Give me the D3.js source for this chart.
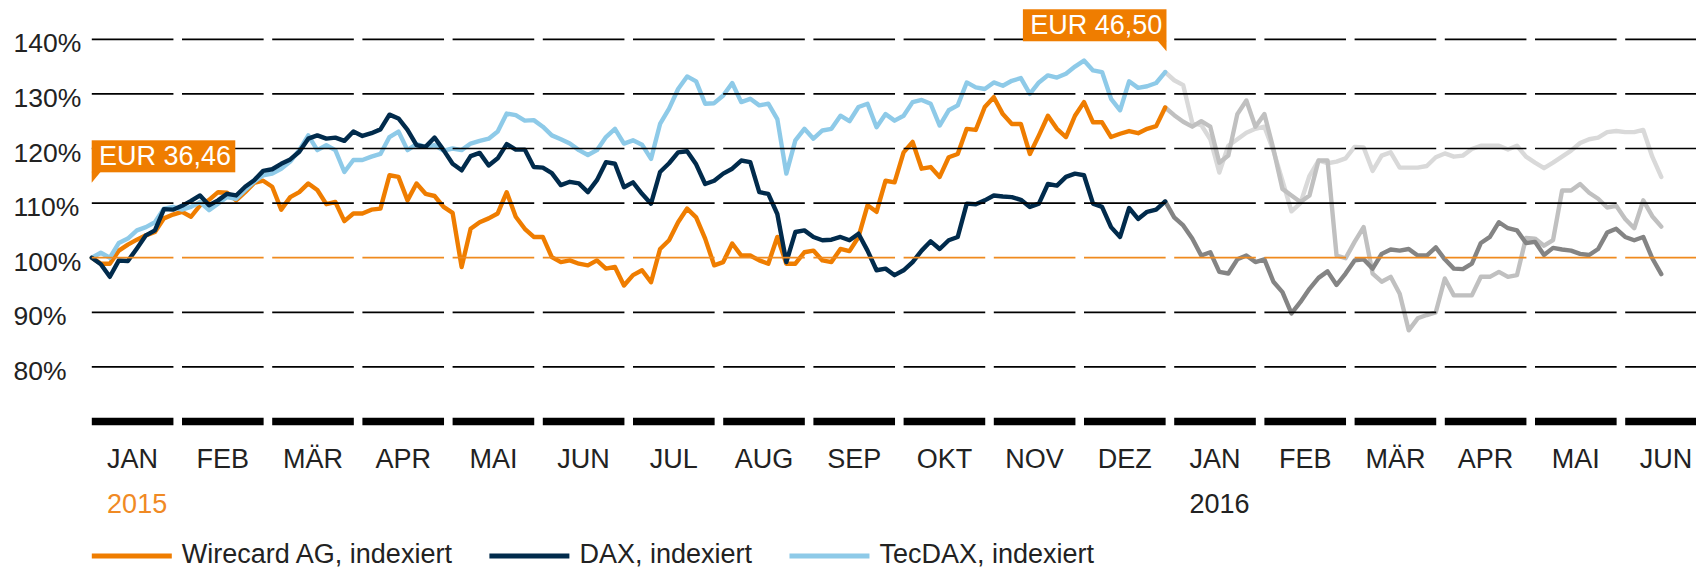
<!DOCTYPE html>
<html>
<head>
<meta charset="utf-8">
<script src="https://cdn.jsdelivr.net/npm/d3@7"></script>
<style>
html,body{margin:0;padding:0;background:#fff;}
svg{display:block;font-family:"Liberation Sans",Arial,Helvetica,sans-serif;}
</style>
</head>
<body>
<svg id="chart" width="1696" height="568"></svg>
<script>
// ---------------- DATA ----------------
const months = ["JAN","FEB","MÄR","APR","MAI","JUN","JUL","AUG","SEP","OKT","NOV","DEZ","JAN","FEB","MÄR","APR","MAI","JUN"];
const yearLabels = ["2015","2016"];
const yearMonthIndex = [0, 12];
const yTicks = [80, 90, 100, 110, 120, 130, 140];
const baselineValue = 100;
const axisValue = 70;
const sampleStepMonths = 0.1;      // values sampled every 0.1 month from 1 Jan 2015
const lastIndex2015 = 119;          // last sample of 2015 (coloured part)
const seriesNames = ["Wirecard AG, indexiert", "DAX, indexiert", "TecDAX, indexiert"];
const priceLabelTexts = ["EUR 36,46", "EUR 46,50"];
const priceLabelIndex = [0, 119];
const priceLabelTop = [121.5, 145.5];

const wirecard = [
100.0, 98.9, 98.9, 101.3, 102.4, 103.3, 104.1, 104.7, 107.2, 107.9,
108.4, 107.5, 109.6, 110.6, 112.0, 111.9, 110.5, 112.0, 113.7, 114.1,
113.0, 108.8, 111.1, 112.0, 113.6, 112.4, 109.8, 110.2, 106.7, 108.1,
108.1, 108.8, 109.0, 115.1, 114.8, 110.5, 113.6, 111.7, 111.3, 109.3,
108.2, 98.3, 105.3, 106.5, 107.2, 108.1, 112.0, 107.5, 105.3, 103.8,
103.8, 100.1, 99.2, 99.5, 98.9, 98.6, 99.5,
98.0, 98.3, 94.9, 96.8, 97.7, 95.5, 101.6, 103.2, 106.5, 109.0,
107.4, 103.5, 98.6, 99.2, 102.6, 100.4, 100.4, 99.5, 98.9, 103.8,
98.9, 98.9, 101.0, 101.3, 99.5, 99.2, 101.6, 101.2, 103.8, 109.6,
108.4, 114.1, 113.8, 119.3, 121.2, 116.3, 116.6, 114.8, 118.4, 119.0,
123.6, 123.4, 127.6, 129.4, 126.3, 124.5, 124.5, 119.0, 122.4, 126.0,
123.6, 122.1, 126.0, 128.5, 124.8, 124.8, 122.1, 122.7,
123.2, 122.8, 123.6, 124.1, 127.5,
126.1, 124.9, 124.0, 125.0, 124.0, 117.4, 118.7, 126.3, 128.8, 124.0,
126.3, 119.9, 112.6, 111.4, 110.2, 111.4, 117.8, 117.8, 100.4, 99.9,
102.9, 105.6, 97.1, 95.6, 96.5, 93.4, 86.7, 88.9, 89.5, 90.0,
96.2, 93.1, 93.1, 93.1, 96.5, 96.5, 97.4, 96.5, 96.8, 103.6,
103.5, 102.2, 103.2, 112.3, 112.3, 113.5, 111.9, 110.8, 109.2, 109.5,
107.1, 105.4, 110.5, 107.6, 105.7
];

const dax = [
100.0, 98.8, 96.5, 99.5, 99.4, 101.7, 104.1, 105.0, 108.9, 108.8,
109.5, 110.4, 111.4, 109.6, 110.5, 111.7, 111.4, 113.0, 114.2, 115.9,
116.2, 117.2, 118.0, 119.4, 121.8, 122.4, 121.8, 122.0, 121.4, 123.1,
122.3, 122.8, 123.5, 126.2, 125.5, 123.4, 120.6, 120.3, 122.0, 119.7,
117.2, 116.0, 118.6, 119.2, 116.9, 118.2, 120.8, 119.8, 119.8, 116.6,
116.5, 115.5, 113.3, 113.9, 113.6, 112.0, 114.2,
117.5, 117.2, 112.9, 113.8, 111.7, 109.9, 115.7, 117.3, 119.3, 119.5,
117.1, 113.5, 114.1, 115.4, 116.3, 117.8, 117.5, 112.0, 111.7, 108.0,
99.2, 104.7, 105.0, 103.8, 103.2, 103.3, 103.8, 103.2, 104.4, 101.3,
97.7, 98.0, 96.8, 97.7, 99.2, 101.3, 103.0, 101.6, 103.2, 103.8,
109.9, 109.8, 110.5, 111.4, 111.2, 111.1, 110.6, 109.3, 109.9, 113.5,
113.2, 114.8, 115.4, 115.1, 109.9, 109.3, 105.6, 103.8,
109.1, 107.1, 108.4, 108.8, 110.3,
107.4, 105.9, 103.5, 100.4, 101.0, 97.4, 97.1, 99.7, 100.4, 99.2,
99.7, 95.6, 93.7, 89.8, 91.9, 94.3, 96.3, 97.5, 95.0, 97.1,
99.5, 99.7, 98.0, 100.7, 101.5, 101.3, 101.6, 100.4, 100.4, 101.9,
99.7, 98.0, 97.9, 98.9, 102.7, 103.8, 106.5, 105.4, 105.0, 102.7,
102.9, 100.5, 101.8, 101.5, 101.3, 100.7, 100.5, 101.6, 104.6, 105.3,
103.8, 103.2, 103.8, 99.9, 97.0
];

const tecdax = [
100.0, 100.9, 100.0, 102.7, 103.5, 105.0, 105.6, 106.5, 109.0, 109.3,
108.8, 109.3, 110.2, 108.7, 109.9, 111.1, 110.8, 112.4, 113.9, 115.1,
115.4, 116.3, 117.6, 119.7, 122.4, 119.7, 120.6, 119.7, 115.7, 117.9,
117.9, 118.5, 119.0, 122.1, 123.1, 119.7, 120.8, 120.3, 120.6, 119.6,
120.0, 119.7, 120.9, 121.4, 121.8, 123.1, 126.4, 126.1, 125.1, 125.2,
124.0, 122.4, 121.7, 120.9, 119.7, 118.8, 119.7,
122.1, 123.6, 120.9, 121.5, 120.7, 118.1, 124.5, 127.3, 130.9, 133.2,
132.3, 128.2, 128.3, 129.7, 132.0, 128.5, 129.1, 127.9, 128.2, 125.4,
115.4, 121.5, 123.6, 121.8, 123.3, 123.6, 126.0, 125.0, 127.6, 128.2,
123.9, 126.3, 125.1, 126.0, 128.5, 128.9, 128.2, 124.2, 127.0, 127.9,
132.1, 131.2, 130.9, 132.1, 131.5, 132.4, 132.9, 130.0, 132.1, 133.4,
133.0, 133.7, 135.0, 136.1, 134.3, 134.0, 129.1, 127.0,
132.3, 131.1, 131.4, 132.0, 134.0,
132.5, 131.6, 124.7, 124.3, 121.7, 115.6, 120.5, 121.7, 122.9, 123.6,
124.0, 119.6, 114.1, 108.5, 110.0, 115.0, 117.8, 117.3, 117.6, 118.2,
120.3, 120.2, 115.9, 118.7, 119.3, 116.5, 116.5, 116.5, 116.8, 118.4,
119.1, 118.5, 118.7, 119.9, 120.5, 120.5, 120.5, 119.8, 120.5, 118.5,
117.4, 116.4, 117.4, 118.5, 119.6, 121.0, 121.7, 122.0, 123.0, 123.2,
123.0, 123.0, 123.4, 118.5, 114.8
];

// ---------------- STYLE ----------------
const colors = { wirecard: "#ef7d00", dax: "#012b4c", tecdax: "#8ecae8" };
const greys  = { wirecard: "#c0c0c0", dax: "#848484", tecdax: "#d9d9d9" };
const textColor = "#222";
const W = 1696, H = 568;
const FONT = 27;

// ---------------- SCALES ----------------
const plotLeft = 91.8, monthStep = 90.2, padInner = 0.095;
const xBand = d3.scaleBand()
  .domain(d3.range(months.length))
  .range([plotLeft, plotLeft + monthStep * (months.length - padInner)])
  .paddingInner(padInner).paddingOuter(0).align(0);
const xTime = d3.scaleLinear()
  .domain([0, months.length])
  .range([plotLeft, plotLeft + xBand.step() * months.length]);
const y = d3.scaleLinear().domain([axisValue, 140]).range([421.5, 39.3]);

const svg = d3.select("#chart");
const bw = xBand.bandwidth();

// ---------------- LINES ----------------
const line = d3.line().x(d => xTime(d.i * sampleStepMonths)).y(d => y(d.v));
const toPts = arr => arr.map((v, i) => ({ i, v }));

const series = [
  { key: "tecdax", values: tecdax },
  { key: "wirecard", values: wirecard },
  { key: "dax", values: dax }
];
const gLines = svg.append("g").attr("fill", "none")
  .attr("stroke-width", 4.4).attr("stroke-linejoin", "round").attr("stroke-linecap", "round");

// grey 2016 continuation
series.forEach(s => {
  gLines.append("path")
    .attr("d", line(toPts(s.values).slice(lastIndex2015)))
    .attr("stroke", greys[s.key]);
});
// coloured 2015 part (orange below, navy on top)
["wirecard", "tecdax", "dax"].forEach(k => {
  const s = series.find(d => d.key === k);
  gLines.append("path")
    .attr("d", line(toPts(s.values).slice(0, lastIndex2015 + 1)))
    .attr("stroke", colors[k]);
});

// ---------------- GRID ----------------
const gGrid = svg.append("g");
yTicks.forEach(v => {
  months.forEach((m, i) => {
    gGrid.append("line")
      .attr("x1", xBand(i)).attr("x2", xBand(i) + bw)
      .attr("y1", y(v)).attr("y2", y(v))
      .attr("stroke", v === baselineValue ? "#f08a1e" : "#000")
      .attr("stroke-width", 1.7);
  });
  gGrid.append("text")
    .attr("x", 13.5).attr("y", y(v) + 13)
    .attr("font-size", 26.5).attr("fill", textColor)
    .text(v + "%");
});

// thick axis bars
months.forEach((m, i) => {
  gGrid.append("line")
    .attr("x1", xBand(i)).attr("x2", xBand(i) + bw)
    .attr("y1", y(axisValue)).attr("y2", y(axisValue))
    .attr("stroke", "#000").attr("stroke-width", 7.4);
});

// month labels
const monthText = svg.append("g").selectAll("text").data(months).join("text")
  .attr("x", (d, i) => xBand(i) + bw / 2)
  .attr("y", 468)
  .attr("text-anchor", "middle")
  .attr("font-size", FONT).attr("fill", textColor)
  .text(d => d);

// year labels, left aligned with the JAN label
yearLabels.forEach((lab, j) => {
  const mi = yearMonthIndex[j];
  const node = monthText.nodes()[mi];
  const wJan = node.getComputedTextLength();
  svg.append("text")
    .attr("x", xBand(mi) + bw / 2 - wJan / 2)
    .attr("y", 512.7)
    .attr("font-size", FONT)
    .attr("fill", j === 0 ? "#f08a24" : textColor)
    .text(lab);
});

// ---------------- PRICE LABELS ----------------
priceLabelTexts.forEach((txt, j) => {
  const g = svg.append("g");
  const t = g.append("text").attr("font-size", FONT).attr("fill", "#fff").text(txt);
  const tw = t.node().getComputedTextLength();
  const boxW = tw + 11.5, boxH = 32;
  const px = xTime(priceLabelIndex[j] * sampleStepMonths);
  const top = y(priceLabelTop[j]);
  const left = j === 0 ? px - 0.1 : px + 1.3 - boxW;
  g.insert("rect", "text")
    .attr("x", left).attr("y", top).attr("width", boxW).attr("height", boxH)
    .attr("fill", colors.wirecard);
  const tail = j === 0
    ? [[left, top + boxH - 0.5], [left + 9, top + boxH - 0.5], [left, top + boxH + 10.5]]
    : [[left + boxW - 9, top + boxH - 0.5], [left + boxW, top + boxH - 0.5], [left + boxW, top + boxH + 10]];
  g.append("path").attr("d", d3.line()(tail) + "Z").attr("fill", colors.wirecard);
  t.attr("x", left + 7.3).attr("y", top + 25);
});

// ---------------- LEGEND ----------------
const legendKeys = ["wirecard", "dax", "tecdax"];
let lx = plotLeft;
legendKeys.forEach((k, j) => {
  svg.append("line")
    .attr("x1", lx).attr("x2", lx + 80)
    .attr("y1", 556).attr("y2", 556)
    .attr("stroke", colors[k]).attr("stroke-width", 5);
  const t = svg.append("text")
    .attr("x", lx + 90).attr("y", 563.3)
    .attr("font-size", FONT).attr("fill", textColor)
    .text(seriesNames[j]);
  lx = lx + 90 + t.node().getComputedTextLength() + 37.5;
});
</script>
</body>
</html>
